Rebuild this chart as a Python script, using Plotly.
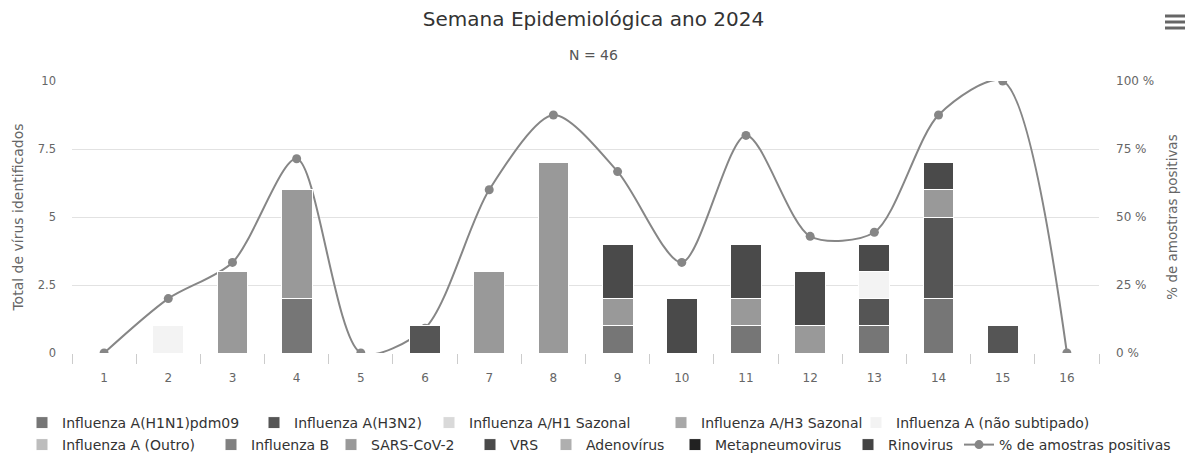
import plotly.graph_objects as go

weeks = [str(i) for i in range(1, 17)]

h1n1 = [0, 0, 0, 2, 0, 0, 0, 0, 1, 0, 1, 0, 1, 2, 0, 0]
h3n2 = [0, 0, 0, 0, 0, 1, 0, 0, 0, 0, 0, 0, 1, 3, 1, 0]
h1_saz = [0] * 16
h3_saz = [0] * 16
nao_sub = [0, 1, 0, 0, 0, 0, 0, 0, 0, 0, 0, 0, 1, 0, 0, 0]
outro = [0] * 16
flu_b = [0] * 16
sars = [0, 0, 3, 4, 0, 0, 3, 7, 1, 0, 1, 1, 0, 1, 0, 0]
vrs = [0, 0, 0, 0, 0, 0, 0, 0, 2, 2, 2, 2, 1, 1, 0, 0]
adeno = [0] * 16
metap = [0] * 16
rino = [0] * 16
pct_pos = [0, 20, 33.3, 71.4, 0, 9.1, 60, 87.5, 66.7, 33.3, 80, 42.9, 44.4, 87.5, 100, 0]

series = [
    ("Influenza A(H1N1)pdm09", h1n1, "#767676"),
    ("Influenza A(H3N2)", h3n2, "#555555"),
    ("Influenza A/H1 Sazonal", h1_saz, "#d9d9d9"),
    ("Influenza A/H3 Sazonal", h3_saz, "#a8a8a8"),
    ("Influenza A (não subtipado)", nao_sub, "#f3f3f3"),
    ("Influenza A (Outro)", outro, "#bdbdbd"),
    ("Influenza B", flu_b, "#808080"),
    ("SARS-CoV-2", sars, "#999999"),
    ("VRS", vrs, "#4a4a4a"),
    ("Adenovírus", adeno, "#afafaf"),
    ("Metapneumovirus", metap, "#222222"),
    ("Rinovirus", rino, "#444444"),
]

FONT = "DejaVu Sans"
W, H = 1187, 455
L, R, T, B = 72, 88, 81, 102
PW, PH = W - L - R, H - T - B

# legend layout (Highcharts-style two rows): left x of each item, row top
legend_pos = [
    (22, 407), (254, 407), (429, 407), (661, 407), (856, 407),
    (22, 429), (211, 429), (331, 429), (470, 429), (546, 429), (675, 429), (848, 429),
    (959, 429),
]

fig = go.Figure()
x_num = list(range(1, 17))

# line first (on base axis, drawn underneath the bars)
fig.add_trace(go.Scatter(
    x=x_num, y=pct_pos, name="% de amostras positivas",
    mode="lines+markers", yaxis="y", legend="legend13",
    line=dict(color="#868686", width=2, shape="spline", smoothing=0.8),
    marker=dict(color="#868686", size=9),
))

for i, (name, vals, color) in enumerate(series):
    fig.add_trace(go.Bar(
        x=x_num, y=[v if v else None for v in vals], name=name,
        yaxis="y2", width=0.48,
        marker=dict(color=color, line=dict(color="white", width=1)),
        legend="legend" if i == 0 else f"legend{i + 1}",
    ))

legends = {}
for k, (lx, ly) in enumerate(legend_pos):
    key = "legend" if k == 0 else f"legend{k + 1}"
    legends[key] = dict(orientation="h", xref="container", x=lx / W, xanchor="left",
                        yref="container", y=1 - ly / H, yanchor="top",
                        font=dict(size=14, color="#333333", family=FONT),
                        itemclick=False, itemdoubleclick=False,
                        bgcolor="rgba(0,0,0,0)")

fig.update_layout(
    width=W, height=H,
    margin=dict(l=L, r=R, t=T, b=B, autoexpand=False),
    paper_bgcolor="white", plot_bgcolor="white",
    barmode="stack",
    font=dict(family=FONT, color="#666666", size=11),
    title=dict(text="Semana Epidemiológica ano 2024", x=0.5, xref="container",
               y=1 - 19 / H, yref="container", yanchor="middle",
               font=dict(size=20, color="#333333", family=FONT)),
    xaxis=dict(range=[0.5, 16.5], tickvals=x_num, ticktext=weeks,
               ticks="", showgrid=False, zeroline=False, showline=False,
               ticklabelstandoff=16, automargin=False,
               tickfont=dict(size=12, color="#666666"),
               minor=dict(tick0=0.5, dtick=1, ticks="outside", ticklen=10,
                          tickcolor="#cccccc", showgrid=False)),
    yaxis=dict(range=[0, 100], side="right", tickvals=[0, 25, 50, 75, 100],
               ticktext=["0 %", "25 %", "50 %", "75 %", "100 %"],
               showgrid=False, zeroline=False, showline=False,
               ticklabelstandoff=16, automargin=False,
               tickfont=dict(size=12, color="#666666"),
               title=dict(text="% de amostras positivas", standoff=14,
                          font=dict(size=13.5, color="#666666"))),
    yaxis2=dict(range=[0, 10], side="left", overlaying="y",
                tickvals=[0, 2.5, 5, 7.5, 10],
                ticktext=["0", "2.5", "5", "7.5", "10"],
                showgrid=True, gridcolor="#e2e2e2", gridwidth=1,
                zeroline=False, showline=False,
                ticklabelstandoff=15, automargin=False,
                tickfont=dict(size=11.5, color="#666666"),
                title=dict(text="Total de vírus identificados", standoff=10,
                           font=dict(size=14, color="#666666"))),
    showlegend=True,
    annotations=[
        dict(text="N = 46", xref="paper", yref="paper", x=(593 - L) / PW,
             y=(H - B - 55) / PH, showarrow=False,
             font=dict(size=14, color="#555555", family=FONT),
             xanchor="center", yanchor="middle"),
    ],
    **legends,
)

# export-menu icon (hamburger)
for yy in (16, 22, 28):
    fig.add_shape(type="line", xref="paper", yref="paper",
                  x0=(1165 - L) / PW, x1=(1185 - L) / PW,
                  y0=(H - B - yy) / PH, y1=(H - B - yy) / PH,
                  line=dict(color="#666666", width=3))

fig.write_html("out.html", config={"displayModeBar": False},
               post_script="document.body.style.margin='0';document.body.style.overflow='hidden';")
